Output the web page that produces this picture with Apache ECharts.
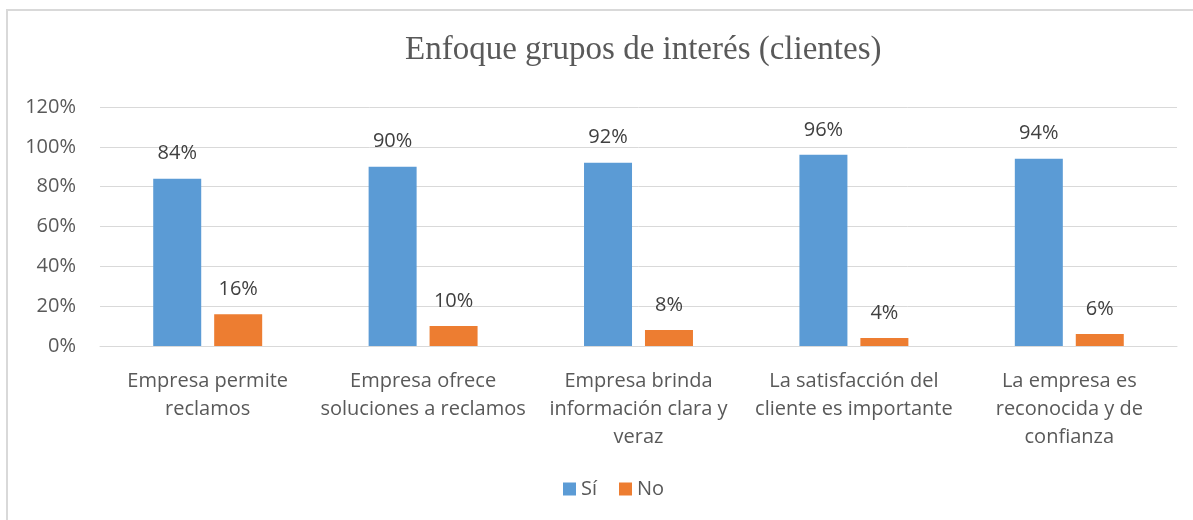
<!doctype html>
<html>
<head>
<meta charset="UTF-8">
<title>Enfoque grupos de interés (clientes)</title>
<script src="https://cdn.jsdelivr.net/npm/echarts@6/dist/echarts.min.js"></script>
<style>
  html, body { margin: 0; padding: 0; background: #fff; }
  #main { width: 1193px; height: 520px; }
</style>
</head>
<body>
<div id="main"></div>
<script type="text/javascript">
// datos
var categorias = [
    'Empresa permite\nreclamos',
    'Empresa ofrece\nsoluciones a reclamos',
    'Empresa brinda\ninformación clara y\nveraz',
    'La satisfacción del\ncliente es importante',
    'La empresa es\nreconocida y de\nconfianza'
];
var si = [84, 90, 92, 96, 94];
var no = [16, 10, 8, 4, 6];
var nombres = ['Sí', 'No'];

var gris = '#595959';
var fuente = '"Open Sans", "Noto Sans", sans-serif';

var myChart = echarts.init(document.getElementById('main'));

var option = {
    backgroundColor: '#ffffff',
    animation: false,
    graphic: [{
        type: 'rect',
        shape: { x: 7, y: 10, width: 1300, height: 600 },
        style: { fill: 'none', stroke: '#d9d9d9', lineWidth: 2 },
        silent: true
    }],
    title: {
        text: 'Enfoque grupos de interés (clientes)',
        left: 405,
        top: 34,
        padding: 0,
        textStyle: {
            fontFamily: '"Liberation Serif", "DejaVu Serif", serif',
            fontSize: 33,
            fontWeight: 'normal',
            color: gris,
            lineHeight: 33
        }
    },
    legend: {
        data: nombres,
        left: 563,
        top: 479,
        padding: 0,
        itemWidth: 13,
        itemHeight: 13,
        itemGap: 22,
        icon: 'rect',
        textStyle: { fontFamily: fuente, fontSize: 20, color: gris, lineHeight: 20 }
    },
    grid: {
        left: 100,
        right: 16,
        top: 107,
        bottom: 174
    },
    xAxis: {
        type: 'category',
        data: categorias,
        axisTick: { show: false },
        axisLine: { lineStyle: { color: '#d9d9d9', width: 1 } },
        axisLabel: {
            interval: 0,
            margin: 21,
            fontFamily: fuente,
            fontSize: 20,
            lineHeight: 28,
            color: gris,
            align: 'center'
        }
    },
    yAxis: {
        type: 'value',
        min: 0,
        max: 120,
        interval: 20,
        axisLine: { show: false },
        axisTick: { show: false },
        splitLine: { lineStyle: { color: '#d9d9d9', width: 1 } },
        axisLabel: {
            formatter: '{value}%',
            margin: 24,
            fontFamily: fuente,
            fontSize: 20,
            color: gris
        }
    },
    series: [
        {
            name: nombres[0],
            type: 'bar',
            data: si,
            barWidth: 48,
            barGap: '27%',
            itemStyle: { color: '#5B9BD5' },
            label: {
                show: true,
                position: 'top',
                distance: 15,
                formatter: '{c}%',
                fontFamily: fuente,
                fontSize: 20,
                lineHeight: 20,
                color: '#404040'
            }
        },
        {
            name: nombres[1],
            type: 'bar',
            data: no,
            barWidth: 48,
            itemStyle: { color: '#ED7D31' },
            label: {
                show: true,
                position: 'top',
                distance: 15,
                formatter: '{c}%',
                fontFamily: fuente,
                fontSize: 20,
                lineHeight: 20,
                color: '#404040'
            }
        }
    ]
};

myChart.setOption(option);
</script>
</body>
</html>
